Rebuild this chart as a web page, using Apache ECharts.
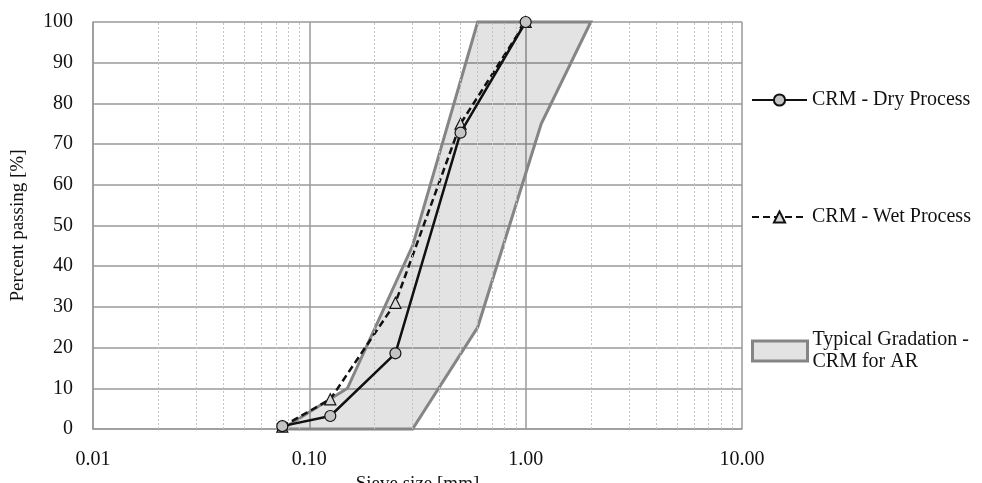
<!DOCTYPE html>
<html>
<head>
<meta charset="utf-8">
<script src="https://cdn.jsdelivr.net/npm/echarts@6/dist/echarts.min.js"></script>
<style>
  html, body { margin: 0; padding: 0; background: #fff; }
  #chart { width: 982px; height: 483px; }
</style>
</head>
<body>
<div id="chart"></div>
<script>
// sieve sizes [mm] and percent passing
const sieve = [0.075, 0.125, 0.25, 0.5, 1.0];
const dryProcess = [0.7, 3.2, 18.6, 72.8, 100];
const wetProcess = [0.6, 7.3, 31, 75, 100];

// typical gradation envelope (fine limit then coarse limit, closed polygon)
const bandX = [0.075, 0.15, 0.3, 0.6, 2.0, 1.18, 0.6, 0.3];
const bandY = [0, 10, 45, 100, 100, 75, 25, 0];

// minor grid lines on the log axis
const minorX = [0.02, 0.03, 0.04, 0.05, 0.06, 0.07, 0.08, 0.09,
                0.2, 0.3, 0.4, 0.5, 0.6, 0.7, 0.8, 0.9,
                2, 3, 4, 5, 6, 7, 8, 9];

const seriesNames = ['CRM - Dry Process', 'CRM - Wet Process', 'Typical Gradation - CRM for AR'];

const font = '"Liberation Serif", "DejaVu Serif", serif';
const gridColor = '#9a9a9a';

const chart = echarts.init(document.getElementById('chart'));

const legendBase = {
  orient: 'vertical',
  left: 751,
  padding: 0,
  selectedMode: false,
  itemWidth: 55,
  itemHeight: 14,
  textStyle: { fontFamily: font, fontSize: 20, color: '#111', lineHeight: 22 }
};

const option = {
  backgroundColor: '#fff',
  animation: false,
  grid: { left: 93, right: 240, top: 22, bottom: 54, outerBoundsMode: 'none' },
  legend: [
    Object.assign({}, legendBase, { top: 89, data: [seriesNames[0]] }),
    Object.assign({}, legendBase, { top: 206, data: [seriesNames[1]] }),
    Object.assign({}, legendBase, {
      top: 329,
      itemHeight: 20,
      data: [{
        name: seriesNames[2],
        icon: 'rect',
        itemStyle: { color: '#e3e3e3', borderColor: '#858585', borderWidth: 3 }
      }],
      formatter: () => 'Typical Gradation -\nCRM for AR'
    })
  ],
  xAxis: {
    type: 'log',
    logBase: 10,
    min: 0.01,
    max: 10,
    name: 'Sieve size [mm]',
    nameLocation: 'middle',
    nameGap: 40,
    nameTextStyle: { fontFamily: font, fontSize: 19, color: '#111' },
    axisLine: { lineStyle: { color: gridColor, width: 1.5 } },
    axisTick: { show: false },
    axisLabel: {
      fontFamily: font, fontSize: 20, color: '#111', margin: 21,
      formatter: v => Number(v).toFixed(2)
    },
    splitLine: { show: true, lineStyle: { color: gridColor, width: 1.5 } }
  },
  yAxis: {
    type: 'value',
    min: 0,
    max: 100,
    interval: 10,
    name: 'Percent passing [%]',
    nameLocation: 'middle',
    nameGap: 65,
    nameTextStyle: { fontFamily: font, fontSize: 19, color: '#111' },
    axisLine: { show: true, lineStyle: { color: gridColor, width: 1.5 } },
    axisTick: { show: false },
    axisLabel: { fontFamily: font, fontSize: 20, color: '#111', margin: 20 },
    splitLine: { show: true, lineStyle: { color: gridColor, width: 1.5 } }
  },
  series: [
    {
      name: seriesNames[0],
      type: 'line',
      z: 5,
      data: sieve.map((x, i) => [x, dryProcess[i]]),
      symbol: 'circle',
      symbolSize: 11,
      lineStyle: { color: '#111', width: 2.5 },
      itemStyle: { color: '#c4c4c4', borderColor: '#111', borderWidth: 1.2 }
    },
    {
      name: seriesNames[1],
      type: 'line',
      z: 4,
      data: sieve.map((x, i) => [x, wetProcess[i]]),
      symbol: 'triangle',
      symbolSize: 11,
      lineStyle: { color: '#111', width: 2.5, type: [7, 4] },
      itemStyle: { color: '#d8d8d8', borderColor: '#111', borderWidth: 1.2 }
    },
    {
      name: seriesNames[2],
      type: 'custom',
      z: 2,
      data: bandX.map((x, i) => [x, bandY[i]]),
      encode: { x: 0, y: 1 },
      itemStyle: { color: '#e3e3e3', borderColor: '#858585', borderWidth: 3 },
      renderItem: (params, api) => {
        if (params.dataIndex !== 0) return null;
        const pts = bandX.map((x, i) => api.coord([x, bandY[i]]));
        return {
          type: 'polygon',
          shape: { points: pts },
          style: { fill: 'rgba(0,0,0,0.11)', stroke: '#858585', lineWidth: 3 }
        };
      }
    },
    {
      // carrier for the minor log grid lines
      type: 'line',
      data: [],
      silent: true,
      z: 1,
      markLine: {
        silent: true,
        symbol: 'none',
        label: { show: false },
        lineStyle: { color: '#c2c2c2', width: 1, type: [2, 2] },
        data: minorX.map(x => ({ xAxis: x }))
      }
    }
  ]
};

chart.setOption(option);
</script>
</body>
</html>
